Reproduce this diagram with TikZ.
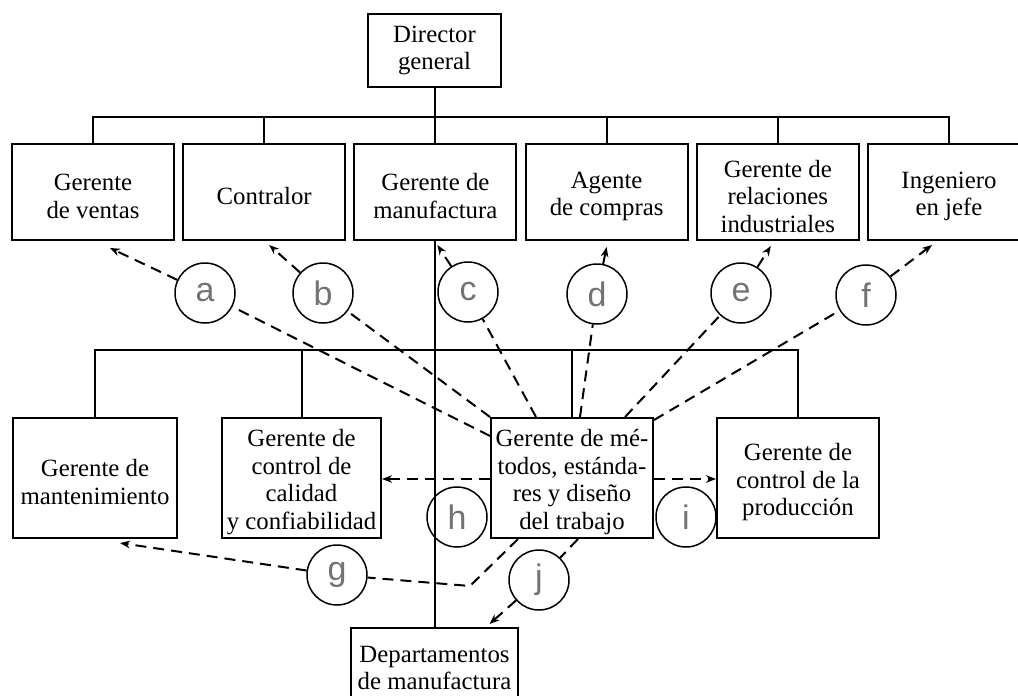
\documentclass[tikz,border=0pt]{standalone}
\usepackage{fontspec}
\setmainfont{Liberation Serif}
\newfontfamily\tagfont{Liberation Sans}
\usetikzlibrary{arrows.meta,calc}
% taller first line, so the text sits a little lower in its box
\newcommand\firstline{\rule{0pt}{12.8pt}}

\begin{document}
\begin{tikzpicture}[x=0.5pt,y=-0.5pt,
  box/.style={draw, line width=1pt, inner sep=0pt, align=center,
    font=\fontsize{12.4}{13.75}\selectfont},
  toprow/.style={box, minimum width=81pt, minimum height=48pt},
  lowrow/.style={box, minimum height=60pt},
  tag/.style={draw, circle, line width=0.75pt, minimum size=30pt, inner sep=0pt,
    font=\tagfont\fontsize{17}{17}\selectfont, text=black!55},
  link/.style={line width=1pt},
  dline/.style={line width=1pt, dash pattern=on 5.5pt off 3.5pt},
  darrow/.style={dline, -{Stealth[length=5pt,width=3.8pt]}},
]
\clip (0,0) rectangle (1018,696);

% chain of command
\node[box, minimum width=66.5pt, minimum height=36.5pt] (dir) at (434.5,50.5) {Director\\general};

\node[toprow] (ven) at (93,192)    {\firstline Gerente\\de ventas};
\node[toprow] (con) at (264.2,192) {\firstline Contralor};
\node[toprow] (man) at (435.4,192) {\firstline Gerente de\\manufactura};
\node[toprow] (com) at (606.6,192) {\firstline Agente\\de compras};
\node[toprow] (rel) at (777.8,192) {\firstline Gerente de\\relaciones\\industriales};
\node[toprow] (ing) at (949,192)   {\firstline Ingeniero\\en jefe};

\node[lowrow, minimum width=82pt]   (mnt) at (95,478)    {\firstline Gerente de\\mantenimiento};
\node[lowrow, minimum width=79.5pt] (cal) at (301.5,478) {\firstline Gerente de\\control de\\calidad\\y confiabilidad};
\node[lowrow, minimum width=81pt]   (met) at (572,478)   {\firstline Gerente de mé-\\todos, estánda-\\res y diseño\\del trabajo};
\node[lowrow, minimum width=81pt]   (pro) at (798,478)   {\firstline Gerente de\\control de la\\producción};

\node[box, minimum width=83.5pt, minimum height=40pt] (dep) at (434.5,668) {Departamentos\\de manufactura};

% solid reporting lines
\coordinate (busA) at (0,117);
\coordinate (busB) at (0,350);
\draw[link] (ven.north) -- (ven.north |- busA) -- (ing.north |- busA) -- (ing.north);
\foreach \n in {con,com,rel} \draw[link] (\n.north) -- (\n.north |- busA);
\draw[link] (dir.south) -- (dir.south |- man.north);
\draw[link] (mnt.north) -- (mnt.north |- busB) -- (pro.north |- busB) -- (pro.north);
\foreach \n in {cal,met} \draw[link] (\n.north) -- (\n.north |- busB);
\draw[link] (man.south) -- (man.south |- dep.north);

% lettered relations
\node[tag] (a) at (205,293) {a};
\node[tag] (b) at (323,293) {b};
\node[tag] (c) at (468,292) {c};
\node[tag] (d) at (597,294) {d};
\node[tag] (e) at (741,293) {e};
\node[tag] (f) at (866,295) {f};
\node[tag] (h) at (457,517) {h};
\node[tag] (i) at (686,517) {i};
\node[tag] (g) at (337,575) {g};
\node[tag] (j) at (539,580) {j};

% start points on the methods box
\coordinate (sa) at ($(met.north west)+(0,19)$);
\coordinate (sb) at (met.north west);
\coordinate (sc) at ($(met.north west)+(46,0)$);
\coordinate (sd) at ($(met.north)+(8,0)$);
\coordinate (se) at ($(met.north)+(53,0)$);
\coordinate (sf) at ($(met.north east)+(0,3)$);
\coordinate (sh) at ($(met.west)+(0,1)$);
\coordinate (si) at ($(met.east)+(0,1)$);
\coordinate (sg) at ($(met.south west)+(28,0)$);
\coordinate (sj) at ($(met.south)+(6,0)$);
\coordinate (gk) at (470,586);

% arrow tips
\coordinate (ta) at ($(ven.south)+(17,7)$);
\coordinate (tb) at ($(con.south)+(5,4)$);
\coordinate (tc) at ($(man.south)+(2,4)$);
\coordinate (td) at ($(com.south)+(0,6)$);
\coordinate (te) at ($(rel.south)+(-7,5)$);
\coordinate (tf) at ($(ing.south)+(-17,4)$);
\coordinate (tg) at ($(mnt.south)+(25,4)$);
\coordinate (tj) at ($(dep.north)+(55,-3)$);

\foreach \s in {a,b,c,d,e,f} {
  \draw[dline] (s\s) -- (\s);
  \draw[darrow] (\s) -- (t\s);
}
\draw[darrow] (sh) -- (sh -| cal.east);
\draw[darrow] (si) -- (si -| pro.west);
\draw[dline] (sg) -- (gk) -- (g);
\draw[darrow] (g) -- (tg);
\draw[dline] (sj) -- (j);
\draw[darrow] (j) -- (tj);
\end{tikzpicture}
\end{document}
